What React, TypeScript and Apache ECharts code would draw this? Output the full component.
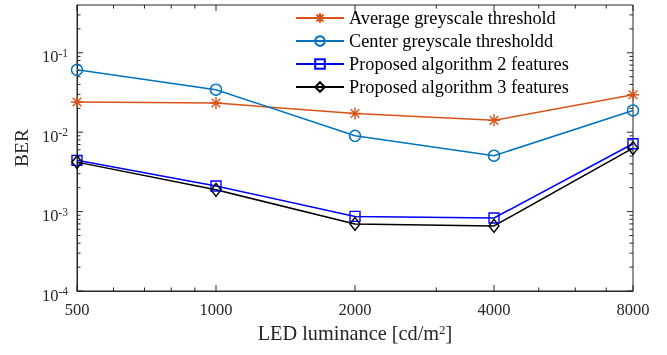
import React, { useEffect, useRef } from "react";
import * as echarts from "echarts";

const luminance = [500, 1000, 2000, 4000, 8000];
const avgThreshold = [0.024, 0.0233, 0.0172, 0.0141, 0.0296];
const centerThreshold = [0.061, 0.0343, 0.009, 0.00506, 0.0188];
const proposed2 = [0.00442, 0.0021, 0.00087, 0.00083, 0.00716];
const proposed3 = [0.0042, 0.00188, 0.0007, 0.00066, 0.0063];

const seriesNames = [
  "Average greyscale threshold",
  "Center greyscale thresholdd",
  "Proposed algorithm 2 features",
  "Proposed algorithm 3 features",
];

const xMajorTicks = [500, 1000, 2000, 4000, 8000];
const xMinorTicks = [600, 700, 800, 900, 3000, 5000, 6000, 7000];
const yMajorTicks = [0.0001, 0.001, 0.01, 0.1];
const yMinorTicks = [
  0.0002, 0.0003, 0.0004, 0.0005, 0.0006, 0.0007, 0.0008, 0.0009,
  0.002, 0.003, 0.004, 0.005, 0.006, 0.007, 0.008, 0.009,
  0.02, 0.03, 0.04, 0.05, 0.06, 0.07, 0.08, 0.09,
  0.2, 0.3,
];

const FONT = "Liberation Serif";
const TXT = "#262626";
const STAR = "path://M0,-5L0,5M-5,0L5,0M-3.6,-3.6L3.6,3.6M-3.6,3.6L3.6,-3.6";
const MAJOR_LEN = 6;
const MINOR_LEN = 3.5;

export default function App() {
  const ref = useRef<HTMLDivElement>(null);
  useEffect(() => {
    if (!ref.current) return;
    const chart = echarts.init(ref.current, undefined, { renderer: "svg" });
    const mk = (name: string, data: number[], color: string, symbol: string, size: any) => ({
      name,
      type: "line",
      data: luminance.map((x, i) => [x, data[i]]),
      symbol,
      symbolSize: size,
      showSymbol: true,
      z: 3,
      lineStyle: { color, width: 1.5 },
      itemStyle: { color: "rgba(255,255,255,0)", borderColor: color, borderWidth: 1.4 },
      emphasis: { disabled: true },
    });
    const tickLine = (x1: number, y1: number, x2: number, y2: number) => ({
      type: "line",
      shape: { x1, y1, x2, y2 },
      style: { stroke: TXT, lineWidth: 1 },
    });
    const xTickData = [
      ...xMajorTicks.map((v) => [v, 0.001, MAJOR_LEN]),
      ...xMinorTicks.map((v) => [v, 0.001, MINOR_LEN]),
    ];
    const yTickData = [
      ...yMajorTicks.map((v) => [1000, v, MAJOR_LEN]),
      ...yMinorTicks.map((v) => [1000, v, MINOR_LEN]),
    ];
    chart.setOption({
      animation: false,
      textStyle: { fontFamily: FONT },
      grid: { left: 77, right: 34, top: 5, bottom: 64, outerBoundsMode: "none" } as any,
      legend: {
        left: 290,
        top: 4,
        orient: "vertical",
        itemWidth: 48,
        itemHeight: 12,
        itemGap: 5,
        selectedMode: false,
        data: seriesNames,
        textStyle: { fontFamily: FONT, fontSize: 18.3, color: "#000", lineHeight: 18 },
      },
      xAxis: {
        type: "log",
        min: 500,
        max: 8000,
        name: "LED luminance [cd/m{s|2}]",
        nameLocation: "middle",
        nameGap: 30,
        nameTextStyle: {
          fontFamily: FONT,
          fontSize: 20.3,
          color: TXT,
          rich: { s: { fontFamily: FONT, fontSize: 13, verticalAlign: "top", color: TXT } },
        },
        axisLine: { show: true, onZero: false, lineStyle: { color: TXT, width: 1 } },
        splitLine: { show: false },
        axisTick: { show: false },
        axisLabel: {
          customValues: xMajorTicks,
          margin: 10,
          fontFamily: FONT,
          fontSize: 16.5,
          color: TXT,
          formatter: (v: number) => String(Math.round(v)),
        },
      },
      yAxis: {
        type: "log",
        min: 0.0001,
        max: 0.4,
        name: "BER",
        nameLocation: "middle",
        nameRotate: 90,
        nameGap: 44,
        nameTextStyle: { fontFamily: FONT, fontSize: 19.5, color: TXT },
        axisLine: { show: true, onZero: false, lineStyle: { color: TXT, width: 1 } },
        splitLine: { show: false },
        axisTick: { show: false },
        axisLabel: {
          customValues: yMajorTicks,
          margin: 9,
          color: TXT,
          padding: [8, 0, 0, 0],
          formatter: (v: number) => `{b|10}{s|${Math.round(Math.log10(v))}}`,
          rich: {
            b: { fontFamily: FONT, fontSize: 16.5, color: TXT, lineHeight: 20 },
            s: { fontFamily: FONT, fontSize: 11.5, color: TXT, verticalAlign: "top", lineHeight: 20 },
          },
        },
      },
      series: [
        mk(seriesNames[0], avgThreshold, "#D95319", STAR, 12),
        mk(seriesNames[1], centerThreshold, "#0072BD", "circle", 11),
        mk(seriesNames[2], proposed2, "#0000FF", "rect", 10),
        mk(seriesNames[3], proposed3, "#000000", "diamond", [10, 13]),
        {
          type: "custom",
          name: "xticks",
          data: xTickData,
          encode: { x: 0, y: 1 },
          silent: true,
          z: 1,
          renderItem: (params: any, api: any) => {
            const cs = params.coordSys;
            const x = api.coord([api.value(0), api.value(1)])[0];
            const len = api.value(2);
            return {
              type: "group",
              children: [
                tickLine(x, cs.y + cs.height, x, cs.y + cs.height - len),
                tickLine(x, cs.y, x, cs.y + len),
              ],
            };
          },
        },
        {
          type: "custom",
          name: "yticks",
          data: yTickData,
          encode: { x: 0, y: 1 },
          silent: true,
          z: 1,
          renderItem: (params: any, api: any) => {
            const cs = params.coordSys;
            const y = api.coord([api.value(0), api.value(1)])[1];
            const len = api.value(2);
            return {
              type: "group",
              children: [
                tickLine(cs.x, y, cs.x + len, y),
                tickLine(cs.x + cs.width, y, cs.x + cs.width - len, y),
              ],
            };
          },
        },
      ],
      graphic: [
        {
          type: "rect",
          shape: { x: 77, y: 5, width: 556, height: 286 },
          style: { fill: "none", stroke: TXT, lineWidth: 1 },
          silent: true,
          z: 0,
        },
      ],
    } as any);
    return () => chart.dispose();
  }, []);
  return <div ref={ref} style={{ position: "fixed", left: 0, top: 0, width: 667, height: 355 }} />;
}
